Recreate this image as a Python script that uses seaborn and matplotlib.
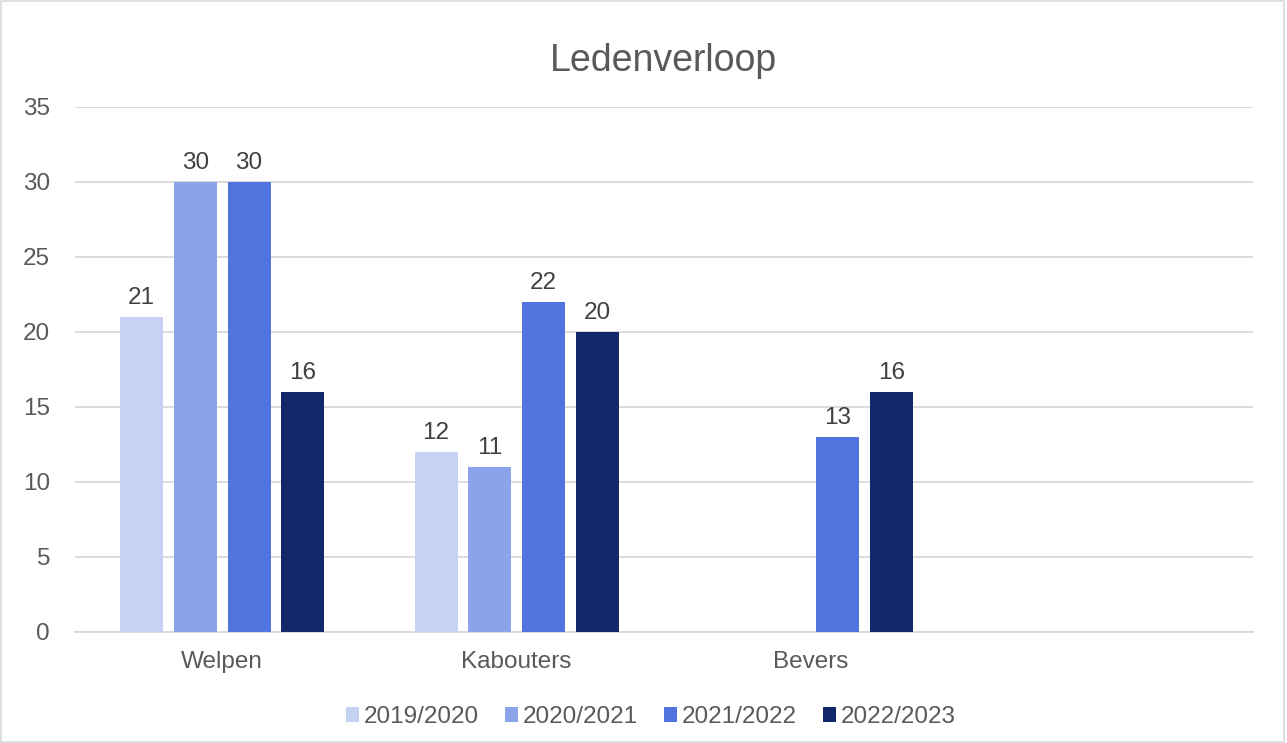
import numpy as np
import pandas as pd
import seaborn as sns
import matplotlib.pyplot as plt

# data
groepen = ["Welpen", "Kabouters", "Bevers"]
seizoenen = ["2019/2020", "2020/2021", "2021/2022", "2022/2023"]
leden_2019 = [21, 12, np.nan]
leden_2020 = [30, 11, np.nan]
leden_2021 = [30, 22, 13]
leden_2022 = [16, 20, 16]
kleuren = ["#c5d2f3", "#8ba3ea", "#5274de", "#13286b"]

rows = []
for seizoen, waarden in zip(seizoenen, [leden_2019, leden_2020, leden_2021, leden_2022]):
    for groep, w in zip(groepen, waarden):
        rows.append({"groep": groep, "seizoen": seizoen, "leden": w})
df = pd.DataFrame(rows)

sns.set_style("white")
plt.rcParams["font.family"] = ["Liberation Sans", "DejaVu Sans"]

fig = plt.figure(figsize=(12.87, 7.43), dpi=100)
ax = fig.add_axes([0.0583, 0.1494, 0.915, 0.7066])

sns.barplot(data=df, x="groep", y="leden", hue="seizoen", order=groepen + [" "],
            hue_order=seizoenen, palette=kleuren, width=0.73, gap=0.2,
            saturation=1, linewidth=0, ax=ax, zorder=3)

for cont in ax.containers:
    ax.bar_label(cont, fmt="%.0f", padding=6, fontsize=17.5, color="#404040")

ax.set_ylim(0, 35)
ax.set_yticks(range(0, 36, 5))
ax.set_xlim(-0.5, 3.5)
ax.yaxis.grid(True, color="#d9d9d9", linewidth=1.3, zorder=0)
for s in ["top", "right", "left"]:
    ax.spines[s].set_visible(False)
ax.spines["bottom"].set_color("#d9d9d9")
ax.spines["bottom"].set_linewidth(1.3)
ax.tick_params(axis="both", length=0, labelsize=17.5, labelcolor="#595959")
ax.tick_params(axis="x", pad=14)
ax.tick_params(axis="y", pad=18)
ax.set_xlabel("")
ax.set_ylabel("")
ax.set_title("Ledenverloop", fontsize=27, color="#595959", pad=26)

ax.legend(loc="upper center", bbox_to_anchor=(0.489, -0.1), ncol=4, frameon=False,
          fontsize=17.5, labelcolor="#595959", handlelength=0.55, handleheight=0.55,
          handletextpad=0.2, columnspacing=1.05)

fig.patches.append(plt.Rectangle((0.001, 0.001), 0.997, 0.997, transform=fig.transFigure,
                                 fill=False, edgecolor="#d9d9d9", linewidth=1.2))

fig.savefig("out.png", dpi=100)
